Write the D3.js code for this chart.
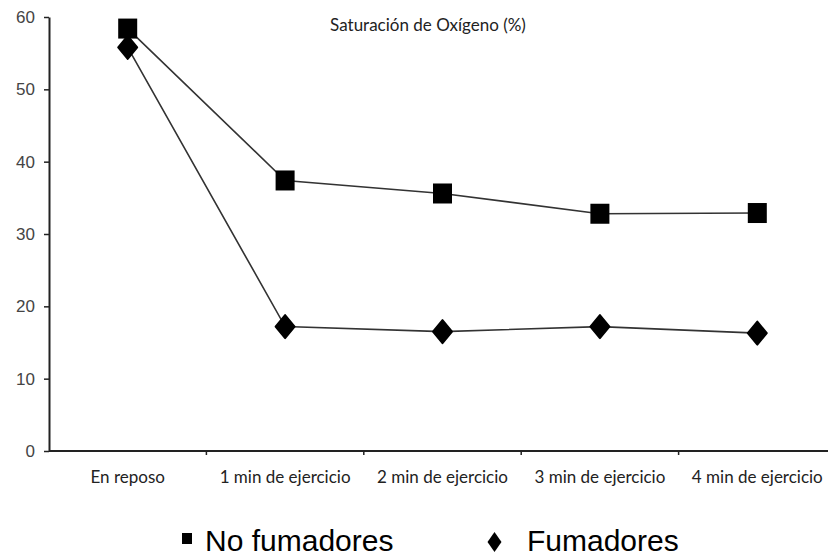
<!DOCTYPE html>
<html>
<head>
<meta charset="utf-8">
<script src="https://cdn.jsdelivr.net/npm/d3@7"></script>
<style>
  body { margin: 0; background: #fff; }
  svg { display: block; }
</style>
</head>
<body>
<div id="chart"></div>
<script>
// categories and series
const categories = ["En reposo", "1 min de ejercicio", "2 min de ejercicio", "3 min de ejercicio", "4 min de ejercicio"];
const noFumadores = [58.4, 37.4, 35.6, 32.8, 32.9];
const fumadores = [55.8, 17.2, 16.5, 17.2, 16.3];
const yTicks = [0, 10, 20, 30, 40, 50, 60];
const title = "Saturación de Oxígeno (%)";
const legendLabels = ["No fumadores", "Fumadores"];

const width = 828, height = 556;

const svg = d3.select("#chart").append("svg")
    .attr("width", width)
    .attr("height", height);

// y scale
let y = d3.scaleLinear().domain([0, 60]).range([451, 17]);

// x band scale, the last band runs past the right edge
let x = d3.scaleBand().domain(categories).range([49, 836]);
let cx = d => x(d) + x.bandwidth() / 2;

// y axis
let yAxis = svg.append("g")
    .attr("transform", "translate(49,0)")
    .call(d3.axisLeft(y).tickValues(yTicks).tickSize(5).tickSizeOuter(0).tickPadding(9));
yAxis.select(".domain").attr("stroke", "#222").attr("stroke-width", 2);
yAxis.selectAll(".tick line").attr("stroke", "#222").attr("stroke-width", 1.5);
yAxis.selectAll(".tick text")
    .attr("fill", "#444")
    .style("font-family", "Liberation Sans, Arial, sans-serif")
    .style("font-size", "17px");

// x axis line (runs to the right edge)
svg.append("line")
    .attr("x1", 49).attr("x2", width)
    .attr("y1", y(0)).attr("y2", y(0))
    .attr("stroke", "#222").attr("stroke-width", 2);

// tick marks between categories
svg.selectAll(".xtick")
    .data(categories.slice(1))
    .enter().append("line")
    .attr("class", "xtick")
    .attr("x1", d => x(d)).attr("x2", d => x(d))
    .attr("y1", y(0)).attr("y2", y(0) + 4)
    .attr("stroke", "#222").attr("stroke-width", 1.5);

// category labels
svg.selectAll(".xlabel")
    .data(categories)
    .enter().append("text")
    .attr("class", "xlabel")
    .attr("x", d => cx(d))
    .attr("y", 483)
    .attr("text-anchor", "middle")
    .attr("fill", "#222")
    .style("font-family", "Lato, sans-serif")
    .style("font-size", "17px")
    .text(d => d);

// title
svg.append("text")
    .attr("x", 428)
    .attr("y", 31)
    .attr("text-anchor", "middle")
    .attr("fill", "#222")
    .style("font-family", "Lato, sans-serif")
    .style("font-size", "17px")
    .text(title);

// lines
let line = d3.line()
    .x((d, i) => cx(categories[i]))
    .y(d => y(d));

[noFumadores, fumadores].forEach(s => {
    svg.append("path")
        .datum(s)
        .attr("d", line)
        .attr("fill", "none")
        .attr("stroke", "#333")
        .attr("stroke-width", 1.6);
});

// markers
const sq = 19;
svg.selectAll(".sq")
    .data(noFumadores)
    .enter().append("rect")
    .attr("class", "sq")
    .attr("x", (d, i) => cx(categories[i]) - sq / 2)
    .attr("y", d => y(d) - 10)
    .attr("width", sq)
    .attr("height", 20)
    .attr("fill", "#000");

function diamond(w, h) {
    return "M0," + (-h / 2) + "L" + (w / 2) + ",0L0," + (h / 2) + "L" + (-w / 2) + ",0Z";
}

svg.selectAll(".dm")
    .data(fumadores)
    .enter().append("path")
    .attr("class", "dm")
    .attr("transform", (d, i) => "translate(" + cx(categories[i]) + "," + y(d) + ")")
    .attr("d", diamond(19, 23))
    .attr("fill", "#000")
    .attr("stroke", "#000")
    .attr("stroke-width", 2)
    .attr("stroke-linejoin", "round");

// legend
let legend = svg.append("g");
legend.append("rect")
    .attr("x", 182).attr("y", 533)
    .attr("width", 10).attr("height", 11)
    .attr("fill", "#000");
legend.append("text")
    .attr("x", 205).attr("y", 551)
    .style("font-family", "Liberation Sans, Arial, sans-serif")
    .style("font-size", "30px")
    .attr("fill", "#000")
    .text(legendLabels[0]);
legend.append("path")
    .attr("transform", "translate(494.5,542)")
    .attr("d", diamond(14, 20))
    .attr("fill", "#000");
legend.append("text")
    .attr("x", 527).attr("y", 551)
    .style("font-family", "Liberation Sans, Arial, sans-serif")
    .style("font-size", "30px")
    .attr("fill", "#000")
    .text(legendLabels[1]);
</script>
</body>
</html>
